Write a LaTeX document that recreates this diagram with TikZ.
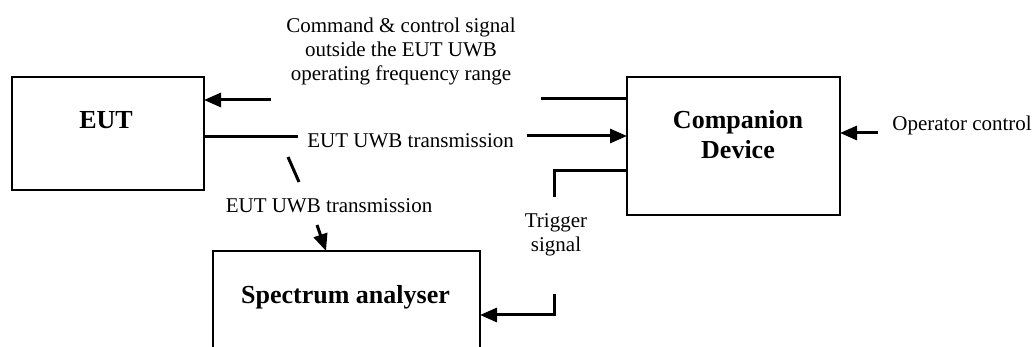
\documentclass[tikz,border=0pt]{standalone}
\usepackage{fontspec}
\setmainfont{Liberation Serif}
\usetikzlibrary{arrows.meta}
\begin{document}
\begin{tikzpicture}[x=0.5pt,y=-0.5pt,
  box/.style={draw=black,line width=0.6pt,inner sep=0pt,outer sep=0pt},
  boxlbl/.style={font=\fontsize{13}{15}\selectfont\bfseries,inner sep=0pt,align=center},
  lbl/.style={font=\fontsize{10.5}{12}\selectfont,inner sep=0pt,align=center},
  conn/.style={line width=1.5pt},
  arr/.style={conn,-{Triangle[length=8.5pt,width=7pt]}}]
\useasboundingbox[fill=white] (0,0) rectangle (1034,347);
\begin{scope}
\clip (0,0) rectangle (1034,347);
% boxes
\node[box,minimum width=96pt,minimum height=56.5pt] (eut) at (108,133.5) {};
\node[box,minimum width=106.5pt,minimum height=69pt] (comp) at (733.5,146) {};
\node[box,minimum width=133.5pt,minimum height=55pt,anchor=north] (spec) at (346.5,251) {};
% box labels
\node[boxlbl,anchor=base] (eutl) at (106,129) {EUT};
\node[boxlbl,anchor=base] (compl) at (738,159) {Companion\\Device};
\node[boxlbl,anchor=base] (specl) at (345.5,304) {Spectrum analyser};
% texts
\node[lbl,anchor=base] (cmdl) at (401,81) {Command \& control signal\\outside the EUT UWB\\operating frequency range};
\node[lbl,anchor=base west] (tx1) at (307,148) {EUT UWB transmission};
\node[lbl,anchor=base] (tx2) at (329,213) {EUT UWB transmission};
\node[lbl,anchor=base] (trig) at (556,252) {Trigger\\signal};
\node[lbl,anchor=base west] (opl) at (892,131) {Operator control};
% coordinates
\coordinate (c1) at (271,100);
\coordinate (c2) at (541,99);
\coordinate (t1) at (298,137);
\coordinate (t2) at (527,136);
\coordinate (g0) at (554,171);
\coordinate (g1) at (554,197);
\coordinate (g2) at (554,294);
\coordinate (g3) at (554,315);
\coordinate (d1) at (288,157);
\coordinate (d2) at (299,182);
\coordinate (d3) at (317,225);
\coordinate (d4) at (326,0);
\coordinate (o1) at (878,133);
% connectors
\draw[arr] (c1) -- (c1 -| eut.east);
\draw[conn] (c2) -- (c2 -| comp.west);
\draw[conn] (t1 -| eut.east) -- (t1);
\draw[arr] (t2) -- (t2 -| comp.west);
\draw[conn] (g0 -| comp.west) -- (g0) -- (g1);
\draw[arr] (g2) -- (g3) -- (g3 -| spec.east);
\draw[conn] (d1) -- (d2);
\draw[arr] (d3) -- (d4 |- spec.north);
\draw[arr] (o1) -- (o1 -| comp.east);
\end{scope}
\end{tikzpicture}
\end{document}
